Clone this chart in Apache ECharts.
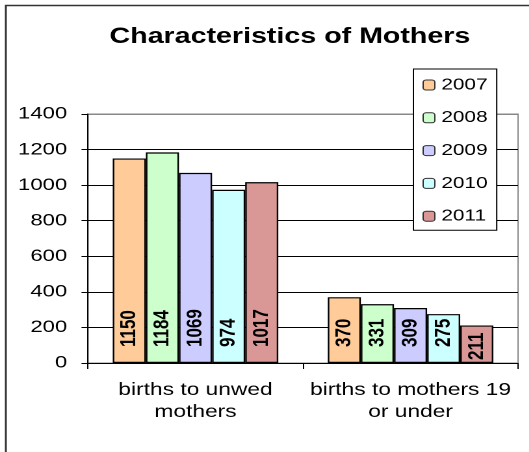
<!DOCTYPE html>
<html>
<head>
<meta charset="utf-8">
<script src="https://cdn.jsdelivr.net/npm/echarts@6/dist/echarts.min.js"></script>
<style>
  html, body { margin: 0; padding: 0; overflow: hidden; background: #fff; }
  /* the original picture is stretched sideways, so the chart is drawn narrow and widened */
  #chart { width: 407px; height: 452px; transform: scaleX(1.3); transform-origin: 0 0; }
</style>
</head>
<body>
<div id="chart"></div>
<script>
const categories = ['births to unwed\nmothers', 'births to mothers 19\nor under'];
const years = ['2007', '2008', '2009', '2010', '2011'];
const values2007 = [1150, 370];
const values2008 = [1184, 331];
const values2009 = [1069, 309];
const values2010 = [974, 275];
const values2011 = [1017, 211];
const colors = ['#FFCC99', '#CCFFCC', '#CCCCFF', '#CCFFFF', '#D99795'];

const allValues = [values2007, values2008, values2009, values2010, values2011];
const font = 'Liberation Sans, Arial, sans-serif';

const chart = echarts.init(document.getElementById('chart'), null, { devicePixelRatio: 2 });

const series = years.map((y, i) => ({
  name: y,
  type: 'bar',
  barGap: '0%',
  barCategoryGap: '23%',
  itemStyle: { color: colors[i], borderColor: '#000', borderWidth: 1.2 },
  label: {
    show: true,
    position: 'insideBottom',
    rotate: 90,
    align: 'left',
    verticalAlign: 'middle',
    distance: 16,
    fontFamily: font,
    fontWeight: 'bold',
    fontSize: 17,
    color: '#000'
  },
  // short bars push their label down to the base
  data: allValues[i].map(v => v < 250 ? { value: v, label: { distance: 3 } } : v)
}));

chart.setOption({
  animation: false,
  title: {
    text: 'Characteristics of Mothers',
    left: 223,
    top: 26,
    padding: 0,
    textAlign: 'center',
    textStyle: { fontFamily: font, fontWeight: 'bold', fontSize: 22, color: '#000' }
  },
  legend: {
    data: years,
    orient: 'vertical',
    left: 318,
    top: 69,
    padding: [8, 7, 6, 7],
    itemGap: 16.8,
    itemWidth: 9,
    itemHeight: 10,
    backgroundColor: '#fff',
    borderColor: '#000',
    borderWidth: 1,
    itemStyle: { borderColor: '#333', borderWidth: 1 },
    textStyle: { fontFamily: font, fontSize: 16, color: '#000' }
  },
  graphic: [{
    type: 'rect',
    silent: true,
    z: -1,
    shape: { x: 4.5, y: 5.5, width: 1000, height: 1000 },
    style: { fill: 'none', stroke: '#333', lineWidth: 1.5 }
  }],
  grid: {
    left: 67.7,
    right: 8.5,
    top: 114,
    bottom: 89,
    show: true,
    borderColor: '#888',
    borderWidth: 1,
    backgroundColor: 'transparent'
  },
  xAxis: {
    type: 'category',
    data: categories,
    axisLine: { lineStyle: { color: '#000', width: 1 } },
    axisTick: { show: true, length: 6, lineStyle: { color: '#000' } },
    axisLabel: { margin: 16, fontFamily: font, fontSize: 17.5, lineHeight: 22, color: '#000', interval: 0 }
  },
  yAxis: {
    type: 'value',
    min: 0,
    max: 1400,
    interval: 200,
    axisLine: { show: true, lineStyle: { color: '#000', width: 1 } },
    axisTick: { show: true, length: 5, lineStyle: { color: '#000' } },
    axisLabel: { margin: 16, fontFamily: font, fontSize: 17, color: '#000', formatter: v => String(v) },
    splitLine: { lineStyle: { color: ['#000', '#000', '#000', '#000', '#000', '#000', '#000', '#888'], width: 1 } }
  },
  series: series
});
</script>
</body>
</html>
